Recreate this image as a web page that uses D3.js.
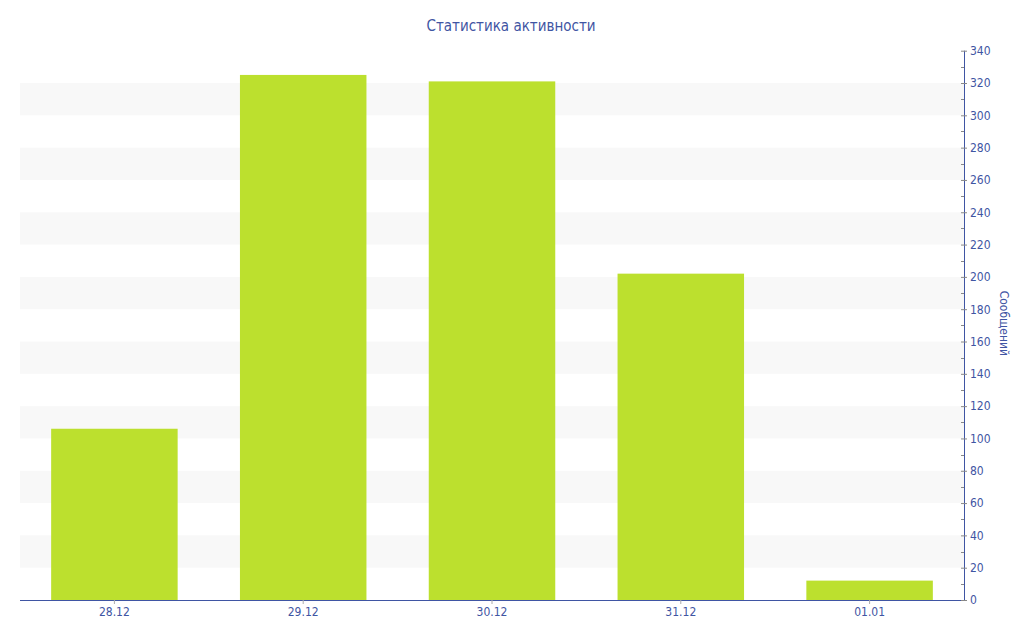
<!DOCTYPE html>
<html><head><meta charset="utf-8">
<script src="https://cdn.jsdelivr.net/npm/d3@7"></script>
<style>body{margin:0;background:#fff}svg{display:block}</style>
</head><body>
<svg id="c" width="1024" height="640"></svg>
<script>
const categories = ["28.12","29.12","30.12","31.12","01.01"];
const values = [106, 325, 321, 202, 12];
const yTicks = d3.range(0, 341, 20);
const title = "Статистика активности";
const yTitle = "Сообщений";

const svg = d3.select("#c");
const L = 20, R = 964, T = 50.7, B = 600;
const blue = "#3f55a3";
const font = "DejaVu Sans Condensed, DejaVu Sans";

const x = d3.scaleBand().domain(categories).range([L, R]).paddingInner(0.33).paddingOuter(0.165);
const y = d3.scaleLinear().domain([0, 340]).range([B, T]);

// stripes
const bands = d3.range(20, 320, 40);
svg.append("g").selectAll("rect").data(bands).join("rect")
  .attr("x", L).attr("width", R - L)
  .attr("y", d => y(d + 20)).attr("height", d => y(d) - y(d + 20))
  .attr("fill", "#f8f8f8");

// bars
svg.append("g").selectAll("rect").data(values).join("rect")
  .attr("x", (d, i) => x(categories[i])).attr("width", x.bandwidth())
  .attr("y", d => y(d)).attr("height", d => B - y(d))
  .attr("fill", "#bce02e");

// x axis
const xa = svg.append("g").attr("transform", `translate(0,${B})`)
  .call(d3.axisBottom(x).tickSize(4).tickPadding(3));
xa.select(".domain").attr("stroke", blue).attr("d", `M${L},0.5H${R}`);
xa.selectAll(".tick line").attr("stroke", "#aaa");
xa.selectAll("text").attr("fill", blue).attr("font-family", font).attr("font-size", 12);

// y axis (right)
const minor = svg.append("g").attr("transform", `translate(${R},0)`);
minor.selectAll("line").data(d3.range(10, 340, 20)).join("line")
  .attr("x1", -3).attr("x2", 0).attr("y1", d => Math.round(y(d)) + 0.5).attr("y2", d => Math.round(y(d)) + 0.5)
  .attr("stroke", "#888");
const ya = svg.append("g").attr("transform", `translate(${R},0)`)
  .call(d3.axisRight(y).tickValues(yTicks).tickSize(3).tickPadding(3));
ya.select(".domain").attr("stroke", blue).attr("d", `M0.5,${T}V${B}`);
ya.selectAll(".tick line").attr("stroke", "#888").attr("x1", -3);
ya.selectAll("text").attr("fill", blue).attr("font-family", font).attr("font-size", 12);

// title
svg.append("text").attr("x", 511).attr("y", 31).attr("text-anchor", "middle")
  .attr("fill", blue).attr("font-family", font).attr("font-size", 15).text(title);

// y title
svg.append("text").attr("transform", `translate(1000,${(T + B) / 2 - 2}) rotate(90)`)
  .attr("text-anchor", "middle").attr("fill", blue).attr("font-family", font).attr("font-size", 12)
  .text(yTitle);
</script>
</body></html>
